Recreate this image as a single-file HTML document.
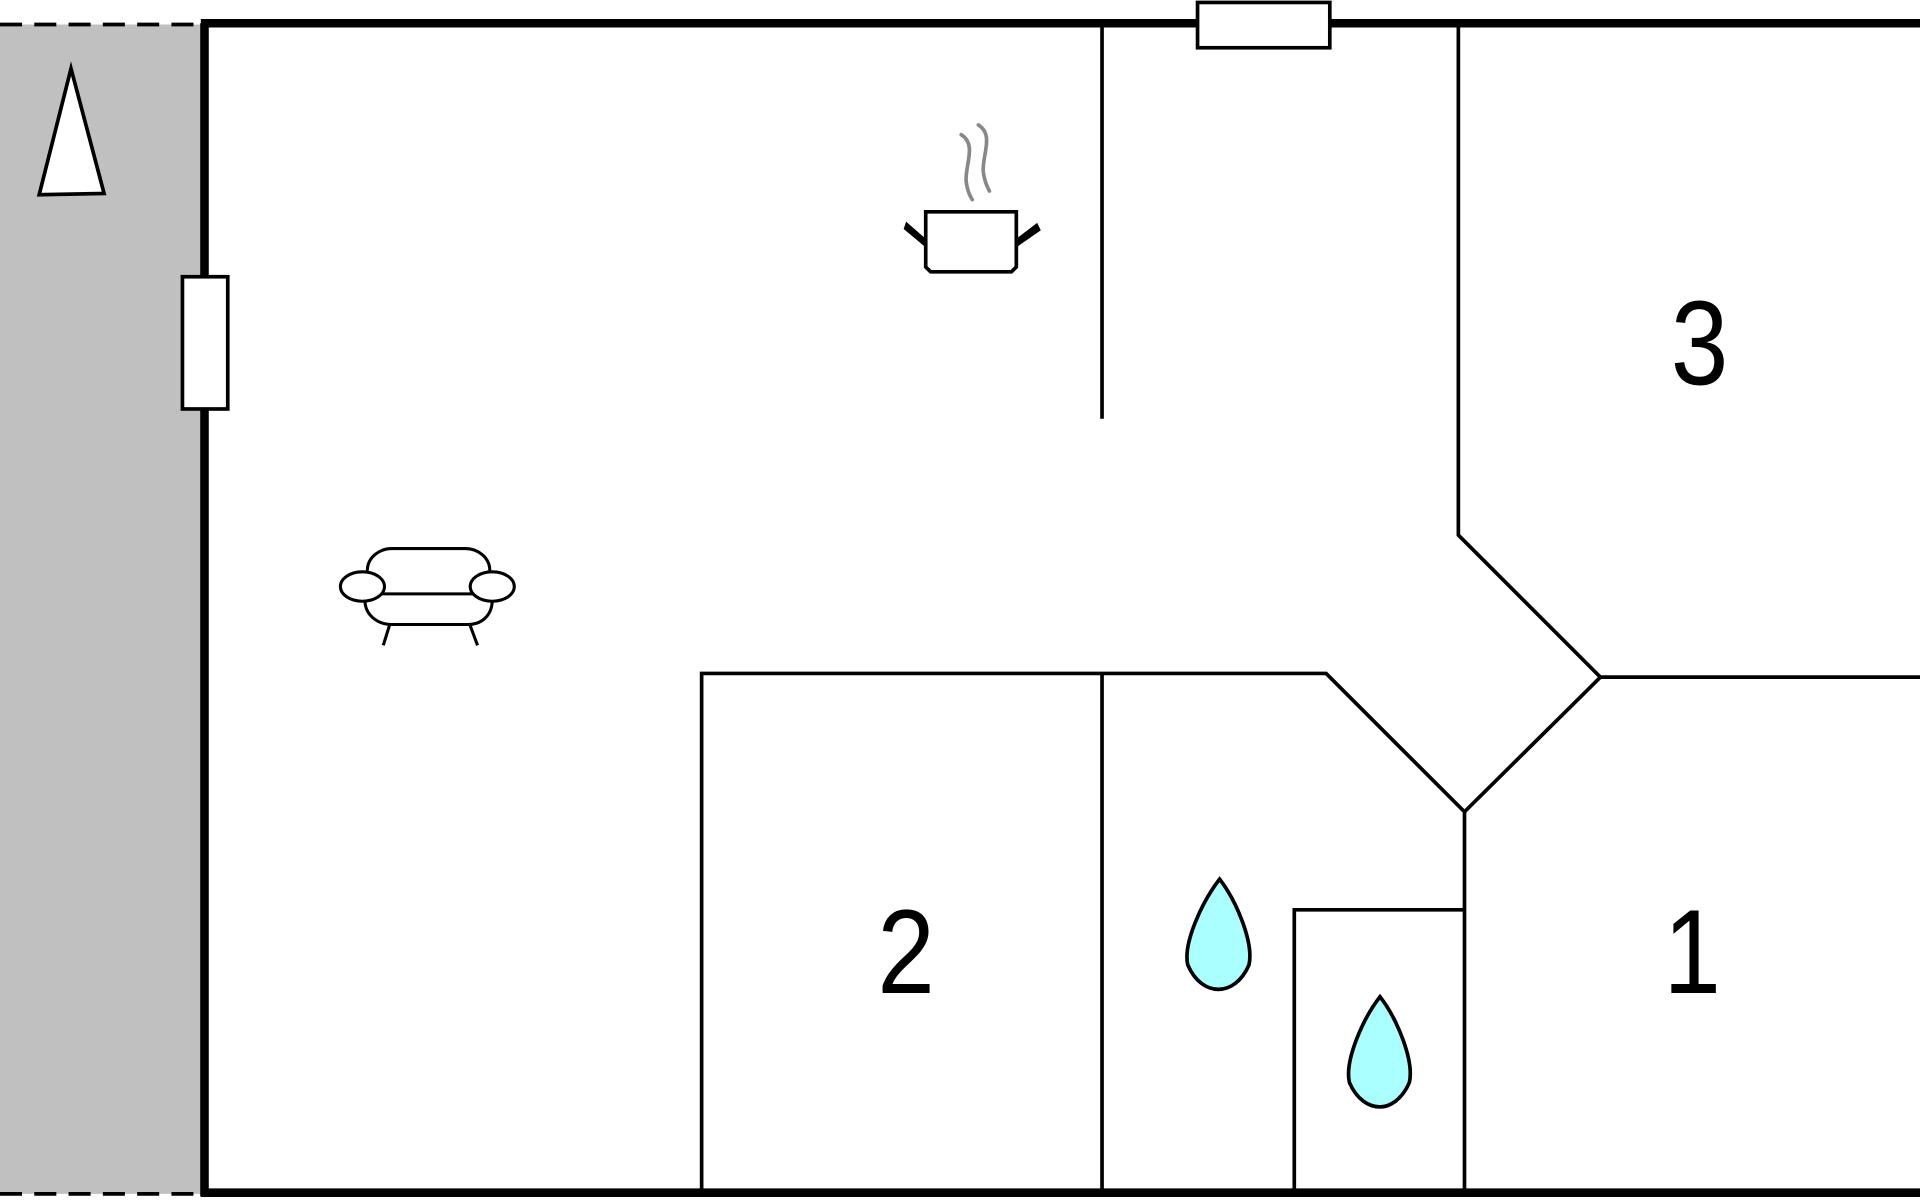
<!DOCTYPE html>
<html><head><meta charset="utf-8"><style>html,body{margin:0;padding:0;background:#fff;overflow:hidden}svg{display:block}</style></head>
<body>
<svg width="1920" height="1200" viewBox="0 0 1568 980" preserveAspectRatio="none" xmlns="http://www.w3.org/2000/svg">
<rect x="0" y="20" width="165" height="955" fill="#c0c0c0"/>
<line x1="0" y1="20" x2="165" y2="20" stroke="#000" stroke-width="3" stroke-dasharray="18,10"/>
<line x1="0" y1="975" x2="165" y2="975" stroke="#000" stroke-width="3" stroke-dasharray="18,10"/>
<polygon points="58,56 85,158 32,159" fill="#fff" stroke="#000" stroke-width="3"/>
<g stroke="#000" stroke-width="7" fill="none">
<line x1="164" y1="19" x2="1568" y2="19"/>
<line x1="167" y1="19" x2="167" y2="977"/>
<line x1="164" y1="974" x2="1568" y2="974"/>
</g>
<rect x="978" y="2" width="108" height="37" fill="#fff" stroke="#000" stroke-width="3"/>
<rect x="149" y="226" width="37" height="108" fill="#fff" stroke="#000" stroke-width="3"/>
<g stroke="#000" stroke-width="3" fill="none">
<line x1="900" y1="19" x2="900" y2="342"/>
<polyline points="1191,19 1191,437 1307,553 1568,553"/>
<polyline points="1307,553 1196,663 1083,550 573,550 573,975"/>
<line x1="900" y1="550" x2="900" y2="975"/>
<line x1="1196" y1="663" x2="1196" y2="975"/>
<polyline points="1196,743 1057,743 1057,975"/>
</g>
<g font-family="Liberation Sans, sans-serif" font-size="98" text-anchor="middle" fill="#000">
<text transform="translate(1388,314) scale(0.86,1)">3</text>
<text transform="translate(740,811) scale(0.86,1)">2</text>
<text transform="translate(1382,811) scale(0.86,1)">1</text>
</g>
<path d="M996,718 C1010,736 1024,770 1020,788 C1014,802 1004,808 995,808 C986,808 976,802 970,788 C966,770 982,736 996,718 Z" fill="#aaffff" stroke="#000" stroke-width="3"/>
<path d="M1127,814 C1141,832 1155,866 1151,884 C1145,898 1135,904 1127,904 C1118,904 1108,898 1102,884 C1098,866 1113,832 1127,814 Z" fill="#aaffff" stroke="#000" stroke-width="3"/>
<path d="M756,173 H830 V218 L826,222 H760 L756,218 Z" fill="#fff" stroke="#000" stroke-width="3"/>
<path d="M756,202 L738,187 L740,181 L756,195 Z" fill="#000"/>
<path d="M830,202 L850,188 L847,182 L830,195 Z" fill="#000"/>
<path d="M785,110 C798,118 788,135 789,148 C790,156 792,160 794,163" stroke="#888" stroke-width="3" fill="none" stroke-linecap="round"/>
<path d="M799,102 C812,110 802,127 803,140 C804,148 806,152 808,156" stroke="#888" stroke-width="3" fill="none" stroke-linecap="round"/>
<g stroke="#000" stroke-width="2.5" fill="#fff">
<path d="M300,466 C300,455 310,448 320,448 H380 C390,448 400,455 400,466"/>
<path d="M298,490 C298,502 308,510 320,510 H382 C394,510 402,502 402,490"/>
<line x1="312" y1="485" x2="388" y2="485"/>
<ellipse cx="296" cy="479" rx="18" ry="12"/>
<ellipse cx="402" cy="479" rx="18" ry="12"/>
<line x1="318" y1="511" x2="313" y2="527"/>
<line x1="384" y1="511" x2="390" y2="527"/>
</g>
</svg>
</body></html>
